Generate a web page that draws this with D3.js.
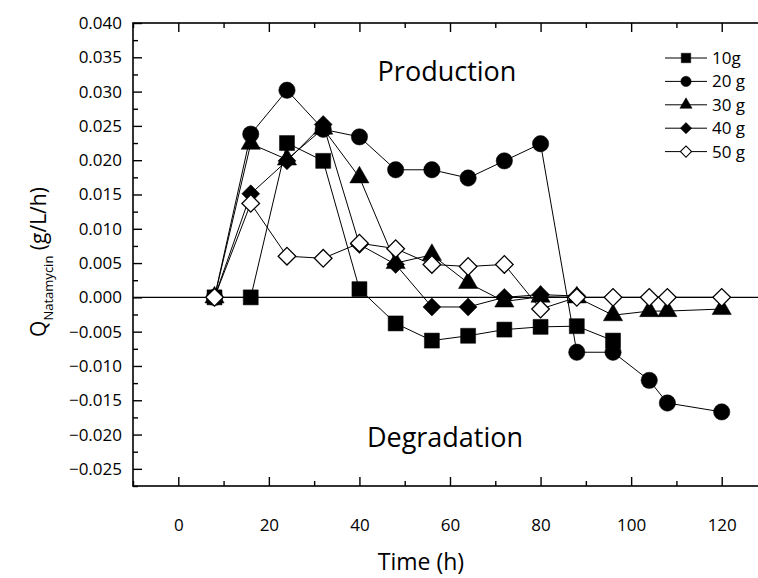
<!DOCTYPE html>
<html>
<head>
<meta charset="utf-8">
<script src="https://cdn.jsdelivr.net/npm/d3@7"></script>
<style>
  body { margin: 0; background: #fff; }
  text { font-family: "Open Sans", "Noto Sans", sans-serif; fill: #000; }
</style>
</head>
<body>
<script>
// données
const seriesNames = ["10g", "20 g", "30 g", "40 g", "50 g"];
const time10 = [8, 16, 24, 32, 40, 48, 56, 64, 72, 80, 88, 96];
const q10 = [0, 0, 0.0225, 0.0199, 0.0012, -0.0038, -0.0063, -0.0056, -0.0047, -0.0043, -0.0042, -0.0063];
const time20 = [8, 16, 24, 32, 40, 48, 56, 64, 72, 80, 88, 96, 104, 108, 120];
const q20 = [0, 0.0238, 0.0302, 0.0245, 0.0234, 0.0186, 0.0186, 0.0174, 0.0199, 0.0224, -0.0080, -0.0080, -0.0121, -0.0154, -0.0167];
const time30 = [8, 16, 24, 32, 40, 48, 56, 64, 72, 80, 88, 96, 104, 108, 120];
const q30 = [0, 0.0224, 0.0201, 0.0246, 0.0175, 0.0050, 0.0062, 0.0021, -0.0006, 0.0001, 0, -0.0026, -0.0020, -0.0020, -0.0017];
const time40 = [8, 16, 24, 32, 40, 48, 56, 64, 72, 80, 88];
const q40 = [0, 0.0151, 0.0199, 0.0252, 0.0077, 0.0048, -0.0014, -0.0014, 0.0000, 0.0004, 0.0002];
const time50 = [8, 16, 24, 32, 40, 48, 56, 64, 72, 80, 88, 96, 104, 108, 120];
const q50 = [0, 0.0137, 0.0060, 0.0057, 0.0079, 0.0071, 0.0048, 0.0045, 0.0048, -0.0017, 0, 0, 0, 0, 0];

const xTicks = [0, 20, 40, 60, 80, 100, 120];
const xMinor = [-10, 10, 30, 50, 70, 90, 110];
const yTicks = [-0.025, -0.020, -0.015, -0.010, -0.005, 0.000, 0.005, 0.010, 0.015, 0.020, 0.025, 0.030, 0.035, 0.040];
const yMinor = [-0.0275, -0.0225, -0.0175, -0.0125, -0.0075, -0.0025, 0.0025, 0.0075, 0.0125, 0.0175, 0.0225, 0.0275, 0.0325, 0.0375];

const W = 758, H = 578;
const mLeft = 133, mRight = 767, mTop = 23, mBottom = 486;

const svg = d3.select("body").append("svg")
  .attr("width", W)
  .attr("height", H);

const x = d3.scaleLinear().domain([-10, 130]).range([mLeft, mRight]);
const y = d3.scaleLinear().domain([-0.0275, 0.040]).range([mBottom, mTop]);

// axes, graduations vers l'intérieur
const fmtY = d3.format(".3f");
const axBottom = svg.append("g").attr("transform", `translate(0,${mBottom})`)
  .call(d3.axisBottom(x).tickValues(xTicks).tickSize(-9).tickPadding(33).tickFormat(d3.format("d")));
svg.append("g").attr("transform", `translate(0,${mBottom})`)
  .call(d3.axisBottom(x).tickValues(xMinor).tickSize(-5).tickFormat(""));
svg.append("g").attr("transform", `translate(0,${mTop})`)
  .call(d3.axisTop(x).tickValues(xTicks).tickSize(-9).tickFormat(""));
svg.append("g").attr("transform", `translate(0,${mTop})`)
  .call(d3.axisTop(x).tickValues(xMinor).tickSize(-5).tickFormat(""));
const axLeft = svg.append("g").attr("transform", `translate(${mLeft},0)`)
  .call(d3.axisLeft(y).tickValues(yTicks).tickSize(-9).tickPadding(11).tickFormat(fmtY));
svg.append("g").attr("transform", `translate(${mLeft},0)`)
  .call(d3.axisLeft(y).tickValues(yMinor).tickSize(-5).tickFormat(""));

svg.selectAll(".domain").remove();
svg.selectAll(".tick line").attr("stroke", "#000").attr("stroke-width", 1.4);
axBottom.selectAll("text").style("font-size", "17px").attr("fill", "#000");
axLeft.selectAll("text").style("font-size", "17px").attr("fill", "#000");

// cadre
svg.append("rect")
  .attr("x", mLeft).attr("y", mTop)
  .attr("width", mRight - mLeft).attr("height", mBottom - mTop)
  .attr("fill", "none").attr("stroke", "#000").attr("stroke-width", 1.6);

// ligne zéro
svg.append("line")
  .attr("x1", mLeft).attr("x2", mRight)
  .attr("y1", y(0)).attr("y2", y(0))
  .attr("stroke", "#000").attr("stroke-width", 1.3);

const series = [
  { name: seriesNames[0], t: time10, q: q10, type: d3.symbolSquare, size: 225, rot: 0, fill: "#000" },
  { name: seriesNames[1], t: time20, q: q20, type: d3.symbolCircle, size: 210, rot: 0, fill: "#000" },
  { name: seriesNames[2], t: time30, q: q30, type: d3.symbolTriangle, size: 160, rot: 0, fill: "#000" },
  { name: seriesNames[3], t: time40, q: q40, type: d3.symbolSquare, size: 160, rot: 45, fill: "#000" },
  { name: seriesNames[4], t: time50, q: q50, type: d3.symbolSquare, size: 155, rot: 45, fill: "#fff" }
];

const line = d3.line().x(d => x(d[0])).y(d => y(d[1]));

series.forEach(s => {
  const pts = s.t.map((t, i) => [t, s.q[i]]);
  svg.append("path")
    .attr("d", line(pts))
    .attr("fill", "none")
    .attr("stroke", "#000")
    .attr("stroke-width", 1);
});

series.forEach(s => {
  const pts = s.t.map((t, i) => [t, s.q[i]]);
  svg.append("g").selectAll("path")
    .data(pts)
    .enter()
    .append("path")
    .attr("d", d3.symbol().type(s.type).size(s.size))
    .attr("transform", d => `translate(${x(d[0])},${y(d[1])}) rotate(${s.rot})`)
    .attr("fill", s.fill)
    .attr("stroke", "#000")
    .attr("stroke-width", s.fill === "#fff" ? 1.3 : 0.5);
});

// légende
const legend = svg.append("g");
series.forEach((s, i) => {
  const ly = 58 + i * 23.4;
  legend.append("line")
    .attr("x1", 665).attr("x2", 707)
    .attr("y1", ly).attr("y2", ly)
    .attr("stroke", "#000").attr("stroke-width", 1);
  legend.append("path")
    .attr("d", d3.symbol().type(s.type).size(s.size * 0.4))
    .attr("transform", `translate(686,${ly}) rotate(${s.rot})`)
    .attr("fill", s.fill)
    .attr("stroke", "#000")
    .attr("stroke-width", s.fill === "#fff" ? 1.1 : 0.5);
  legend.append("text")
    .attr("x", 712).attr("y", ly)
    .attr("dy", "0.35em")
    .style("font-size", "17px")
    .text(s.name);
});

// annotations
svg.append("text")
  .attr("x", 447).attr("y", 81)
  .attr("text-anchor", "middle")
  .style("font-size", "27px")
  .text("Production");
svg.append("text")
  .attr("x", 445).attr("y", 447)
  .attr("text-anchor", "middle")
  .style("font-size", "27px")
  .text("Degradation");

// titres des axes
svg.append("text")
  .attr("x", 421).attr("y", 570)
  .attr("text-anchor", "middle")
  .style("font-size", "23px")
  .text("Time (h)");

const yLab = svg.append("text")
  .attr("transform", "translate(46,262) rotate(-90)")
  .attr("text-anchor", "middle")
  .style("font-size", "21px");
yLab.append("tspan").text("Q");
yLab.append("tspan").attr("dy", 7).style("font-size", "13px").text("Natamycin");
yLab.append("tspan").attr("dy", -7).text(" (g/L/h)");
</script>
</body>
</html>
